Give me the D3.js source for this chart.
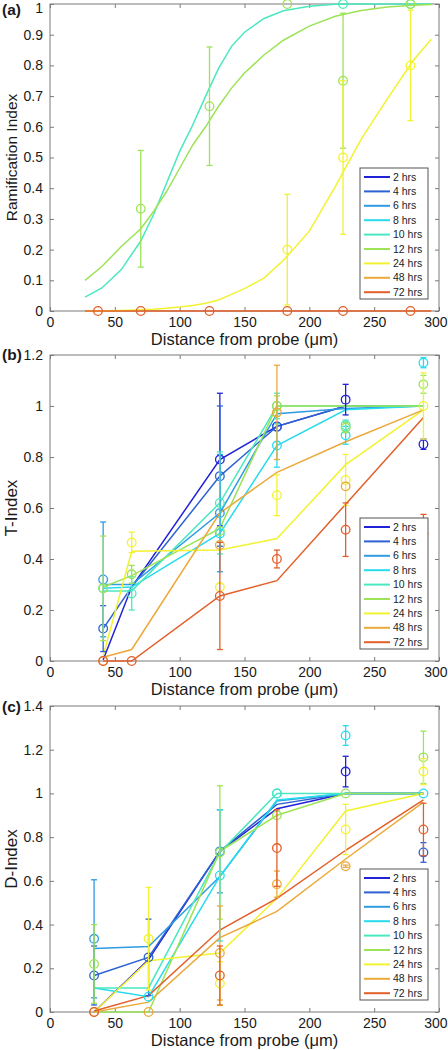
<!DOCTYPE html>
<html><head><meta charset="utf-8">
<script src="https://cdn.jsdelivr.net/npm/d3@7"></script>
<style>body{margin:0;background:#fff;}svg{display:block;font-family:"Liberation Sans",Arial,sans-serif;}</style>
</head><body><svg id="chart" width="448" height="1050"></svg>
<script>
// ---------- shared ----------
const hours = ["2 hrs","4 hrs","6 hrs","8 hrs","10 hrs","12 hrs","24 hrs","48 hrs","72 hrs"];
const seriesColors = ["#2121d6","#2d62d2","#2f9be3","#27dbee","#4ae8c0","#9de357","#f2f230","#eba93a","#e35f2a"];
const xTicks = [0,50,100,150,200,250,300];

// ---------- panel (a): Ramification Index (fitted curves + points) ----------
const aCurveX  = [27,40,55,70,80,90,100,110,120,130,140,150,165,180,200,220,240,260,280,294];
const aCurve10 = [0.045,0.075,0.135,0.228,0.315,0.418,0.52,0.605,0.70,0.79,0.862,0.908,0.953,0.978,0.993,0.999,1,1,1,1];
const aCurve12 = [0.10,0.145,0.21,0.268,0.325,0.39,0.465,0.54,0.60,0.667,0.726,0.775,0.834,0.882,0.928,0.96,0.979,0.99,0.996,0.998];
const aCurve24 = [0,0.001,0.002,0.004,0.006,0.009,0.013,0.018,0.025,0.036,0.054,0.073,0.107,0.165,0.26,0.405,0.56,0.69,0.815,0.885];
const aCurve72 = [0,0,0,0,0,0,0,0,0,0,0,0,0,0,0,0,0,0,0,0];
const aPointX  = [37,70,123,183,226,278];
const aPts10   = [null,null,null,null,1.0,1.0];
const aErr10   = [null,null,null,null,0,0];
const aPts12   = [null,0.333,0.667,1.0,0.75,1.0];
const aErr12   = [null,0.19,0.193,0,0.22,0];
const aPts24   = [null,null,null,0.2,0.5,0.8];
const aErr24   = [null,null,null,0.18,0.25,0.18];
const aPts72   = [0,0,0,0,0,0];
const aErr72   = [0,0,0,0,0,0];
const aYTicks  = [0,0.1,0.2,0.3,0.4,0.5,0.6,0.7,0.8,0.9,1];

// ---------- panel (b): T-Index ----------
const bX = [41,63,131,175,228,288];
const bLines = [
  [0.005,0.29,0.79,0.92,1.0,1.0],
  [0.127,0.29,0.725,0.92,1.0,1.0],
  [0.30,0.30,0.58,0.97,0.99,1.0],
  [0.285,0.29,0.50,0.845,0.985,1.0],
  [0.275,0.275,0.62,1.0,1.0,1.0],
  [0.29,0.335,0.52,1.0,1.0,1.0],
  [0.02,0.43,0.435,0.48,0.77,0.985],
  [0.015,0.045,0.58,0.74,0.86,0.985],
  [0,0,0.255,0.315,0.615,0.955]
];
const bPts = [
  [null,null,0.79,0.92,1.025,0.85],
  [0.127,null,0.725,0.918,null,null],
  [0.32,null,0.58,null,null,null],
  [null,null,0.50,0.845,0.885,1.17],
  [0.285,0.265,0.62,1.0,0.925,null],
  [0.285,0.34,0.51,1.0,0.915,1.085],
  [null,0.465,0.29,0.65,0.71,1.0],
  [0,null,0.455,0.975,0.685,null],
  [0,0,0.255,0.40,0.515,0.5]
];
const bErr = [
  [null,null,0.26,0,0.06,0.02],
  [0.09,null,0.275,0,null,null],
  [0.225,null,0.23,null,null,null],
  [null,null,0,0.085,0.035,0.02],
  [0,0.065,0.2,0.05,0.02,null],
  [0.205,0.035,0,0.04,0.02,0.035],
  [null,0.04,0,0.08,0.1,0.13],
  [0,null,0,0.185,0,null],
  [0,0,0.21,0.035,0.105,0.075]
];
const bYTicks = [0,0.2,0.4,0.6,0.8,1,1.2];

// ---------- panel (c): D-Index ----------
const cX = [34,76,131,175,228,288];
const cLines = [
  [0.0,0.24,0.735,0.93,1.0,1.0],
  [0.167,0.25,0.735,0.95,1.0,1.0],
  [0.29,0.30,0.62,0.965,1.0,1.0],
  [0.11,0.07,0.62,0.97,1.0,1.0],
  [0.11,0.11,0.73,1.0,1.0,1.0],
  [0.0,0.0,0.735,0.90,1.0,1.0],
  [0.0,0.235,0.27,0.52,0.92,1.0],
  [0.0,0.045,0.34,0.46,0.70,0.96],
  [0.005,0.075,0.375,0.52,0.74,0.97]
];
const cPts = [
  [null,null,null,null,1.10,null],
  [0.167,0.25,null,null,null,0.73],
  [0.335,null,0.735,null,null,null],
  [null,0.07,0.625,1.0,1.265,1.0],
  [null,null,null,1.0,null,null],
  [0.22,null,0.73,0.90,1.0,1.165],
  [null,0.335,0.13,null,0.835,1.10],
  [0,0,0.27,0.585,0.667,null],
  [0,null,0.167,0.75,null,0.835]
];
const cErr = [
  [null,null,null,null,0.07,null],
  [0.135,0.175,null,null,null,0.045],
  [0.27,null,0.19,null,null,null],
  [null,0,0.3,0,0.045,0],
  [null,null,null,0,null,null],
  [0.18,null,0.305,0,0,0.12],
  [null,0.235,0.1,null,0.115,0.06],
  [0,0,0.215,0.06,0.005,null],
  [0,null,0.135,0.175,null,0.12]
];
const cYTicks = [0,0.2,0.4,0.6,0.8,1,1.2,1.4];

// ---------- drawing ----------
const svg = d3.select("#chart");
const x = d3.scaleLinear().domain([0,300]).range([50,439]);

function drawPanel(cfg){
  const y = d3.scaleLinear().domain([0,cfg.yMax]).range([cfg.bottom,cfg.top]);
  const g = svg.append("g");
  const fmt = d => String(+d.toFixed(1));

  // frame
  g.append("rect").attr("x",x(0)).attr("y",cfg.top).attr("width",x(300)-x(0)).attr("height",cfg.bottom-cfg.top)
    .attr("fill","#fff").attr("stroke","#7a7a7a").attr("stroke-width",1);

  const axB = g.append("g").attr("transform",`translate(0,${cfg.bottom})`)
    .call(d3.axisBottom(x).tickValues(xTicks).tickSize(-4).tickFormat(d3.format("d")));
  const axT = g.append("g").attr("transform",`translate(0,${cfg.top})`)
    .call(d3.axisTop(x).tickValues(xTicks).tickSize(-4).tickFormat(""));
  const axL = g.append("g").attr("transform",`translate(${x(0)},0)`)
    .call(d3.axisLeft(y).tickValues(cfg.yTicks).tickSize(-4).tickPadding(7).tickFormat(fmt));
  const axR = g.append("g").attr("transform",`translate(${x(300)},0)`)
    .call(d3.axisRight(y).tickValues(cfg.yTicks).tickSize(-4).tickFormat(""));
  [axB,axT,axL,axR].forEach(a=>{
    a.select(".domain").remove();
    a.selectAll(".tick line").attr("stroke","#7a7a7a");
    a.selectAll("text").attr("fill","#1a1a1a").style("font-size","14px").style("font-family","'Liberation Sans',Arial,sans-serif");
  });
  axB.selectAll(".tick text").attr("y",15.5).attr("dy","0");
  axB.selectAll(".tick text").filter(d=>d===300).attr("text-anchor","end").attr("x",8);
  // keep the top y label inside the picture
  axL.selectAll(".tick text").filter(d=>y(d) < 8).attr("y", d => 8 - y(d));

  // series lines
  const line = d3.line().x(d=>x(d[0])).y(d=>y(d[1])).curve(d3.curveLinear);
  cfg.lines.forEach(L=>{
    g.append("path").datum(L.xs.map((xv,i)=>[xv,L.ys[i]]))
      .attr("d",line).attr("fill","none").attr("stroke",seriesColors[L.s]).attr("stroke-width",1.5);
  });
  // points with error bars
  cfg.points.forEach(P=>{
    const pts = P.xs.map((xv,i)=>({x:xv,v:P.ys[i],e:P.es[i]})).filter(d=>d.v!==null);
    const col = seriesColors[P.s];
    const eb = pts.filter(d=>d.e>0);
    g.selectAll(null).data(eb).join("line")
      .attr("x1",d=>x(d.x)).attr("x2",d=>x(d.x)).attr("y1",d=>y(Math.max(0,d.v-d.e))).attr("y2",d=>y(d.v+d.e))
      .attr("stroke",col).attr("stroke-width",1.3);
    [-1,1].forEach(sg=>{
      g.selectAll(null).data(eb).join("line")
        .attr("x1",d=>x(d.x)-3).attr("x2",d=>x(d.x)+3)
        .attr("y1",d=>y(Math.max(0,d.v+sg*d.e))).attr("y2",d=>y(Math.max(0,d.v+sg*d.e)))
        .attr("stroke",col).attr("stroke-width",1.3);
    });
    g.selectAll(null).data(pts).join("circle")
      .attr("cx",d=>x(d.x)).attr("cy",d=>y(d.v)).attr("r",4.3)
      .attr("fill","none").attr("stroke",col).attr("stroke-width",1.3);
  });

  // legend
  const lg = g.append("g");
  const lx = 360, lw = 68, rowH = 14.4, lh = 131;
  const ly = cfg.bottom - 12 - lh;
  lg.append("rect").attr("x",lx).attr("y",ly).attr("width",lw).attr("height",lh)
    .attr("fill","#fff").attr("stroke","#555").attr("stroke-width",1);
  const rows = lg.selectAll(null).data(hours).join("g")
    .attr("transform",(d,i)=>`translate(0,${ly+9+i*rowH})`);
  rows.append("line").attr("x1",lx+4).attr("x2",lx+30).attr("y1",0).attr("y2",0)
    .attr("stroke",(d,i)=>seriesColors[i]).attr("stroke-width",2);
  rows.append("text").attr("x",lx+33).attr("y",0).attr("dy","0.35em")
    .style("font-size","10.5px").attr("fill","#222").text(d=>d);

  // labels
  g.append("text").attr("x",(x(0)+x(300))/2).attr("y",cfg.bottom+33.5).attr("text-anchor","middle")
    .style("font-size","16.5px").attr("fill","#1a1a1a").text("Distance from probe (\u03bcm)");
  g.append("text").attr("transform",`translate(17,${(cfg.top+cfg.bottom)/2}) rotate(-90)`)
    .attr("text-anchor","middle").style("font-size",cfg.yLabelSize+"px").attr("fill","#1a1a1a").text(cfg.yLabel);
  g.append("text").attr("x",2).attr("y",cfg.tagY).style("font-size","15.5px").style("font-weight","bold")
    .attr("fill","#1a1a1a").text(cfg.tag);
}

const idx = h => hours.indexOf(h);
drawPanel({
  top:4, bottom:311, yMax:1, yTicks:aYTicks, yLabel:"Ramification Index", yLabelSize:15.5, tag:"(a)", tagY:15,
  lines:[
    {s:idx("10 hrs"), xs:aCurveX, ys:aCurve10},
    {s:idx("12 hrs"), xs:aCurveX, ys:aCurve12},
    {s:idx("24 hrs"), xs:aCurveX, ys:aCurve24},
    {s:idx("72 hrs"), xs:aCurveX, ys:aCurve72}
  ],
  points:[
    {s:idx("10 hrs"), xs:aPointX, ys:aPts10, es:aErr10},
    {s:idx("12 hrs"), xs:aPointX, ys:aPts12, es:aErr12},
    {s:idx("24 hrs"), xs:aPointX, ys:aPts24, es:aErr24},
    {s:idx("72 hrs"), xs:aPointX, ys:aPts72, es:aErr72}
  ]
});
drawPanel({
  top:355, bottom:661, yMax:1.2, yTicks:bYTicks, yLabel:"T-Index", yLabelSize:17, tag:"(b)", tagY:360,
  lines: bLines.map((ys,s)=>({s, xs:bX, ys})),
  points: bPts.map((ys,s)=>({s, xs:bX, ys, es:bErr[s]}))
});
drawPanel({
  top:706, bottom:1012, yMax:1.4, yTicks:cYTicks, yLabel:"D-Index", yLabelSize:17, tag:"(c)", tagY:712,
  lines: cLines.map((ys,s)=>({s, xs:cX, ys})),
  points: cPts.map((ys,s)=>({s, xs:cX, ys, es:cErr[s]}))
});
</script></body></html>
